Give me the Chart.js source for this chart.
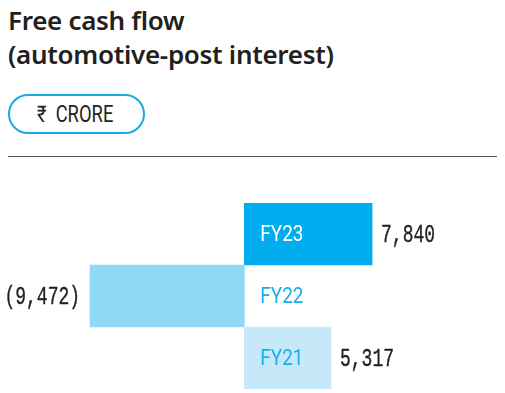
<!DOCTYPE html>
<html>
<head>
<meta charset="utf-8">
<script src="https://cdn.jsdelivr.net/npm/chart.js@4"></script>
<style>
  html, body { margin: 0; padding: 0; background: #fff; }
  body { width: 505px; height: 393px; position: relative; overflow: hidden; font-family: "Noto Sans", sans-serif; }
  .title { position: absolute; left: 8px; top: 3px; font-size: 26px; font-weight: 600; line-height: 34px; color: #231f20; letter-spacing: -0.3px; }
  .pill { position: absolute; left: 8px; top: 94px; width: 133px; height: 36px; border: 2px solid #1ba9e6; border-radius: 20px; }
  .pill span { position: absolute; left: 27px; top: 5px; font-family: Roboto, sans-serif; font-size: 23px; color: #231f20; transform: scaleX(0.8); transform-origin: left; white-space: nowrap; }
  .rule { position: absolute; left: 8px; top: 156px; width: 489px; height: 0; border-top: 1.5px solid #555; }
  #wrap { position: absolute; left: 0; top: 170px; width: 505px; height: 223px; }
</style>
</head>
<body>
<div class="title">Free cash flow<br>(automotive-post interest)</div>
<div class="pill"><span>₹&nbsp; CRORE</span></div>
<div class="rule"></div>
<div id="wrap"><canvas id="cashflow"></canvas></div>

<script>
'use strict';

const years = ['FY23', 'FY22', 'FY21'];
const cashFlow = [7840, -9472, 5317];
const barColors = ['#00aeef', '#8fd8f6', '#c6e9f9'];
const yearColors = ['#ffffff', '#1aadeb', '#1aadeb'];

function fmt(v) {
    const s = Math.abs(v).toLocaleString('en-US');
    return v < 0 ? '(' + s + ')' : s;
}

// draw squeezed text (the fonts in the picture are condensed)
function squeezed(ctx, text, x, y, sx, align, stroke) {
    ctx.save();
    ctx.translate(x, y);
    ctx.scale(sx, 1);
    ctx.textAlign = align;
    ctx.fillText(text, 0, 0);
    if (stroke) {
        ctx.lineWidth = stroke;
        ctx.strokeStyle = ctx.fillStyle;
        ctx.strokeText(text, 0, 0);
    }
    ctx.restore();
}

const barLabels = {
    id: 'barLabels',
    afterDatasetsDraw(chart) {
        const ctx = chart.ctx;
        const zero = chart.scales.x.getPixelForValue(0);
        chart.getDatasetMeta(0).data.forEach((bar, i) => {
            const v = cashFlow[i];
            ctx.save();
            ctx.textBaseline = 'middle';
            ctx.font = '22px Roboto';
            ctx.fillStyle = yearColors[i];
            squeezed(ctx, years[i], zero + 16, bar.y + 1, 0.86, 'left');
            ctx.font = '25px "Liberation Mono"';
            ctx.fillStyle = '#231f20';
            if (v >= 0) {
                squeezed(ctx, fmt(v), bar.x + 9, bar.y + 1, 0.72, 'left', 0.4);
            } else {
                squeezed(ctx, fmt(v), bar.x - 10, bar.y + 1, 0.72, 'right', 0.4);
            }
            ctx.restore();
        });
    }
};

new Chart(document.getElementById('cashflow'), {
    type: 'bar',
    data: {
        labels: years,
        datasets: [{
            data: cashFlow,
            backgroundColor: barColors,
            borderWidth: 0,
            barPercentage: 1,
            categoryPercentage: 1
        }]
    },
    options: {
        indexAxis: 'y',
        responsive: true,
        maintainAspectRatio: false,
        animation: false,
        layout: { padding: { top: 33, bottom: 4, left: 0, right: 0 } },
        plugins: { legend: { display: false }, tooltip: { enabled: false } },
        scales: {
            x: { display: false, min: -15000, max: 16000 },
            y: { display: false }
        }
    },
    plugins: [barLabels]
});
</script>
</body>
</html>
